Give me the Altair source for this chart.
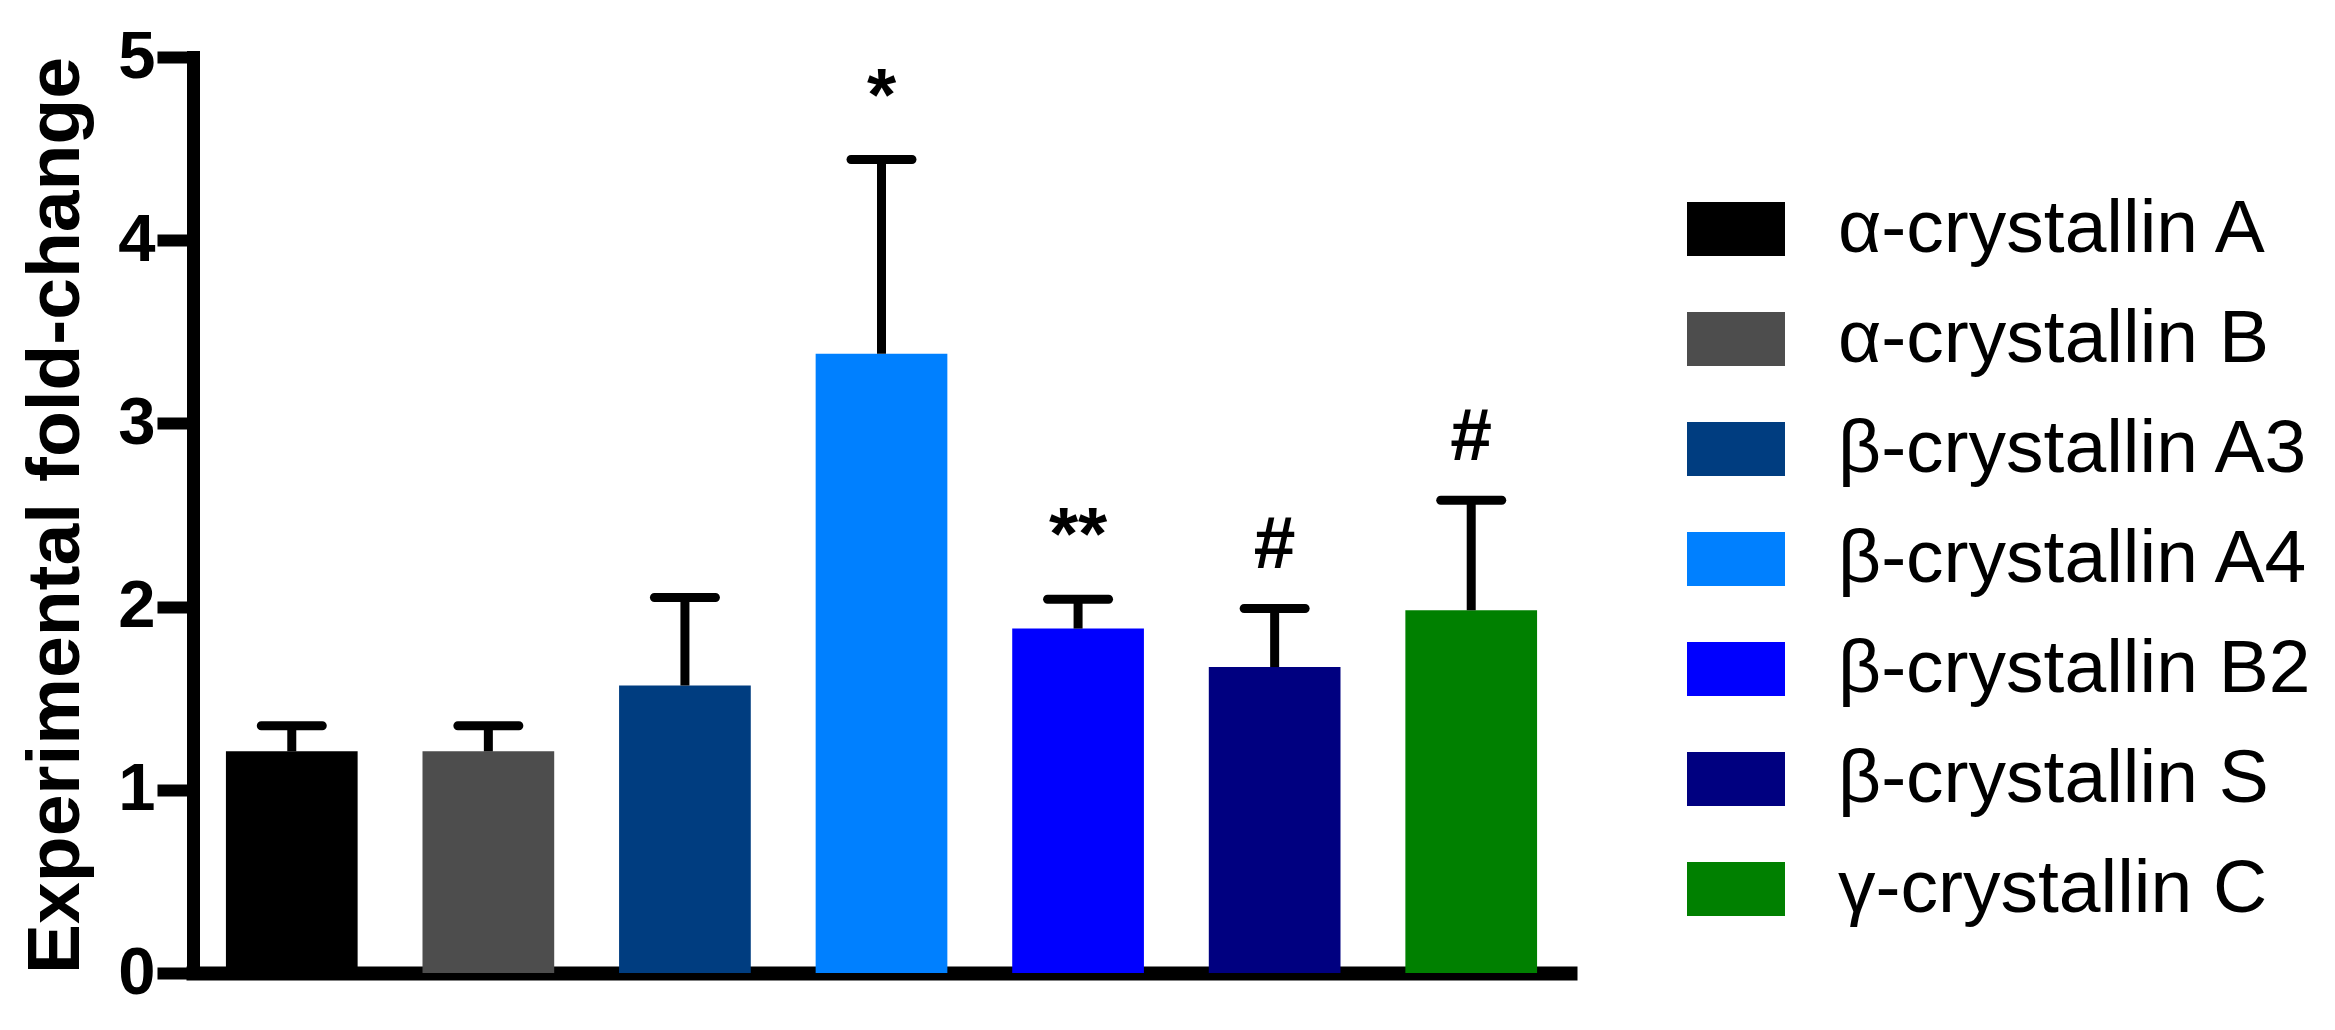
import altair as alt
import pandas as pd

categories = ["α-crystallin A", "α-crystallin B", "β-crystallin A3", "β-crystallin A4",
              "β-crystallin B2", "β-crystallin S", "γ-crystallin C"]
means = [1.21, 1.21, 1.57, 3.38, 1.88, 1.67, 1.98]
upper = [1.35, 1.35, 2.05, 4.44, 2.04, 1.99, 2.58]
significance = ["", "", "", "*", "**", "#", "#"]
colors = ["#000000", "#4d4d4d", "#003d80", "#0080ff", "#0000ff", "#000080", "#008000"]
y_ticks = [0, 1, 2, 3, 4, 5]

df = pd.DataFrame({"gene": categories, "mean": means, "upper": upper, "sig": significance})

FONT = "Liberation Sans"

x_scale = alt.Scale(domain=categories, paddingInner=0.33, paddingOuter=0.1675)
y_scale = alt.Scale(domain=[0, 5], nice=False, zero=True)

x_axis = alt.Axis(domain=True, domainWidth=14, domainColor="black", domainCap="square",
                  ticks=False, labels=False, title=None, grid=False)

y_axis = alt.Axis(values=y_ticks, format="d", grid=False,
                  domainWidth=13, domainColor="black", domainCap="square",
                  tickSize=36, tickWidth=12, tickColor="black", tickCap="butt",
                  labelFont=FONT, labelFontSize=67, labelFontWeight="bold", labelColor="black",
                  labelPadding=2, labelFlush=False,
                  title="Experimental fold-change", titleFont=FONT, titleFontSize=75,
                  titleFontWeight="bold", titleColor="black", titleAngle=270,
                  titleX=-115, titleY=458, titleAlign="center", titleBaseline="alphabetic")

x_enc = alt.X("gene:N", scale=x_scale, sort=categories, axis=x_axis)

color = alt.Color("gene:N", sort=categories,
                  scale=alt.Scale(domain=categories, range=colors),
                  legend=alt.Legend(orient="none", legendX=1494, legendY=123, title=None,
                                    symbolType="M-1,-0.551L1,-0.551L1,0.551L-1,0.551Z",
                                    symbolSize=9604, symbolStrokeWidth=0, symbolOpacity=1,
                                    labelFont=FONT, labelFontSize=75, labelColor="black",
                                    labelOffset=53, rowPadding=23, padding=0, labelLimit=1000))

base = alt.Chart(df)

bars = base.mark_bar().encode(
    x=x_enc,
    y=alt.Y("mean:Q", scale=y_scale, axis=y_axis),
    color=color,
)

stems = base.mark_rule(color="black", strokeWidth=9).encode(
    x=x_enc,
    y=alt.Y("mean:Q", scale=y_scale, axis=y_axis),
    y2="upper:Q",
)

caps = base.mark_tick(color="black", size=70, thickness=9, cornerRadius=4.5, opacity=1).encode(
    x=x_enc,
    y=alt.Y("upper:Q", scale=y_scale, axis=y_axis),
)

stars = base.mark_text(font=FONT, fontSize=75, fontWeight="bold", color="black",
                       baseline="alphabetic", align="center", dy=-40).encode(
    x=x_enc,
    y=alt.Y("upper:Q", scale=y_scale, axis=y_axis),
    text="sig:N",
)

chart = alt.layer(bars, stems, caps, stars).properties(
    width=1377, height=916,
    padding={"left": 185, "top": 49, "right": 757, "bottom": 50},
    autosize=alt.AutoSizeParams(type="none"),
    background="white",
).configure_view(stroke=None)

chart.save("out.html", embed_options={"renderer": "svg", "actions": False})
